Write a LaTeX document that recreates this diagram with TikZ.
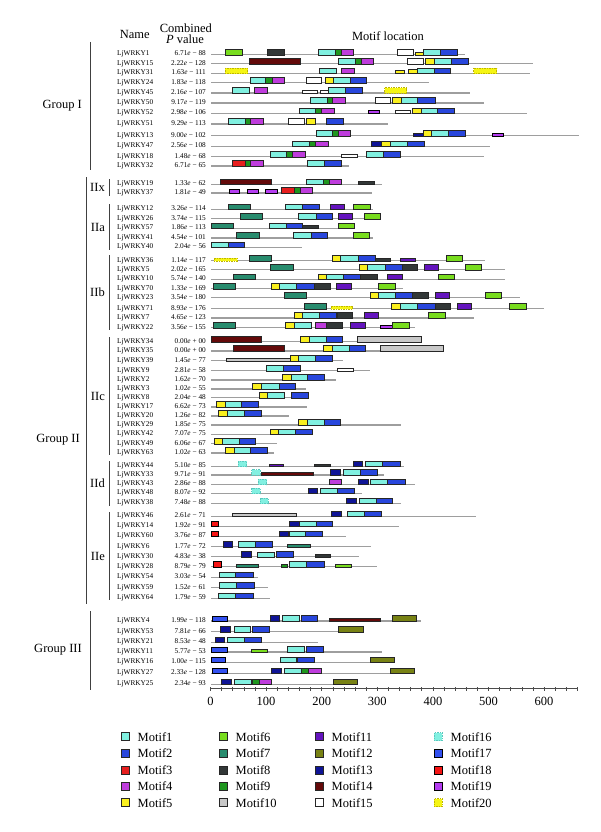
\documentclass[tikz,border=0pt]{standalone}
\usepackage{fontspec}
\setmainfont{Liberation Serif}
\definecolor{c1}{RGB}{128,240,224}
\definecolor{c2}{RGB}{40,70,220}
\definecolor{c3}{RGB}{230,30,30}
\definecolor{c4}{RGB}{190,60,220}
\definecolor{c5}{RGB}{250,240,30}
\definecolor{c6}{RGB}{120,220,30}
\definecolor{c7}{RGB}{40,140,110}
\definecolor{c8}{RGB}{50,55,55}
\definecolor{c9}{RGB}{30,150,30}
\definecolor{c10}{RGB}{200,200,200}
\definecolor{c11}{RGB}{100,20,190}
\definecolor{c12}{RGB}{120,130,20}
\definecolor{c13}{RGB}{15,20,150}
\definecolor{c14}{RGB}{100,10,10}
\definecolor{c16}{RGB}{130,240,225}
\definecolor{c16d}{RGB}{90,200,190}
\definecolor{c17}{RGB}{50,80,240}
\definecolor{c18}{RGB}{245,20,20}
\definecolor{c19}{RGB}{180,60,240}
\definecolor{c20}{RGB}{245,245,20}
\definecolor{c20d}{RGB}{190,180,0}
\tikzset{
 bl/.style={draw=black!85,line width=0.5pt},
 m1/.style={bl,fill=c1}, m2/.style={bl,fill=c2}, m3/.style={bl,fill=c3},
 m4/.style={bl,fill=c4}, m5/.style={bl,fill=c5}, m6/.style={bl,fill=c6},
 m7/.style={bl,fill=c7}, m8/.style={bl,fill=c8}, m9/.style={bl,fill=c9},
 m10/.style={bl,fill=c10}, m11/.style={bl,fill=c11}, m12/.style={bl,fill=c12},
 m13/.style={bl,fill=c13}, m14/.style={bl,fill=c14}, m15/.style={bl,fill=white},
 m16/.style={fill=c16,draw=c16d,dash pattern=on 1.5pt off 1pt,line width=0.6pt},
 m17/.style={fill=c17}, m18/.style={fill=c18}, m19/.style={fill=c19},
 m20/.style={fill=c20,draw=c20d,dash pattern=on 1.5pt off 1pt,line width=0.6pt},
 baseln/.style={draw=black!38,line width=1.1pt},
 gname/.style={anchor=base west,inner sep=0pt,font=\fontsize{7.3}{8}\selectfont},
 pval/.style={anchor=base east,inner sep=0pt,font=\fontsize{7.3}{8}\selectfont},
 head/.style={inner sep=0pt,font=\fontsize{12.5}{13}\selectfont},
 grp/.style={anchor=east,inner sep=0pt,font=\fontsize{12.5}{13}\selectfont},
 sgrp/.style={anchor=east,inner sep=0pt,font=\fontsize{12.5}{13}\selectfont},
 brk/.style={draw=black!75,line width=0.9pt},
 leg/.style={anchor=west,inner sep=0pt,font=\fontsize{12.5}{13}\selectfont},
 axisln/.style={draw=black!70,line width=1pt},
 ticklab/.style={inner sep=0pt,font=\fontsize{12.5}{13}\selectfont},
}
\newcommand\MR[2]{\def\ry{#1}\draw[baseln] (211,\ry+1) -- (#2,\ry+1);}
\newcommand\MB[3]{\draw[#1] (#2,\ry-4.3) rectangle (#3,\ry+1.3);}
\newcommand\MM[3]{\draw[#1] (#2,\ry-3) rectangle (#3,\ry+1.3);}
\newcommand\MS[3]{\draw[#1] (#2,\ry-1.6) rectangle (#3,\ry+1.3);}
\newcommand\GN[3]{\node[gname] (g#1) at (117,\ry+2.5) {LjWRKY#1};\node[pval] (p#1) at (206,\ry+2.5) {#2\textit{e} #3};}
\begin{document}
\begin{tikzpicture}[x=1pt,y=-1pt]
\useasboundingbox (0,0) rectangle (600,832);
\fill[white] (0,0) rectangle (600,832);
% headers
\node[head] (hname) at (134.7,34) {Name};
\node[head] (hcomb) at (185.8,28) {Combined};
\node[head] (hpv) at (185,39.5) {\textit{P} value};
\node[head] (hloc) at (388,36) {Motif location};
% Group I
\MR{53.5}{465}\GN{1}{6.71}{− 88}
\MB{m6}{225.3}{242}\MB{m8}{267.7}{284}\MB{m1}{318.5}{335.5}\MB{m9}{335.5}{341.5}\MB{m4}{341.5}{353.5}\MB{m15}{397.7}{413.5}\MS{m5}{415.3}{423.3}\MB{m1}{423.3}{440.7}\MB{m2}{440.7}{457.3}
\MR{62.8}{533.3}\GN{15}{2.22}{− 128}
\MB{m14}{249}{300.7}\MB{m1}{338.3}{355}\MB{m9}{355}{361}\MB{m4}{361}{373.3}\MB{m15}{407.3}{423.5}\MB{m5}{425.5}{434.3}\MB{m1}{434.3}{451.7}\MB{m2}{451.7}{468.3}
\MR{72.3}{530}\GN{31}{1.63}{− 111}
\MB{m20}{225.3}{247.7}\MB{m1}{319}{336}\MB{m4}{341.7}{354}\MS{m5}{395.3}{404.3}\MM{m5}{408.7}{417.3}\MB{m1}{417.3}{434}\MB{m2}{434}{450.7}\MB{m20}{473.7}{496.5}
\MR{81.6}{429}\GN{24}{1.83}{− 118}
\MB{m1}{250}{265.7}\MB{m9}{265.7}{272.3}\MB{m4}{272.3}{284.3}\MB{m15}{306.3}{321.7}\MB{m5}{325.3}{333.3}\MB{m1}{333.3}{350}\MB{m2}{350}{366.7}
\MR{92}{470}\GN{45}{2.16}{− 107}
\MB{m1}{232.3}{249.3}\MB{m4}{254.3}{267.3}\MS{m15}{302.3}{317.7}\MS{m15}{320.5}{328.5}\MB{m1}{328.5}{345.3}\MB{m2}{345.3}{362}\MB{m20}{384.7}{406.7}
\MR{102}{484.3}\GN{50}{9.17}{− 119}
\MB{m1}{310.5}{327.2}\MB{m9}{327.2}{332.7}\MB{m4}{332.7}{345}\MB{m15}{375}{390.7}\MB{m5}{392.7}{401}\MB{m1}{401}{417.7}\MB{m2}{417.7}{435}
\MR{112.3}{526.7}\GN{52}{2.98}{− 106}
\MB{m1}{299.3}{315.7}\MB{m9}{315.7}{321.7}\MB{m4}{321.7}{334}\MS{m19}{367.7}{379.3}\MS{m15}{395.3}{410.7}\MB{m5}{412.7}{421}\MB{m1}{421}{437.7}\MB{m2}{437.7}{454.3}
\MR{123}{387.7}\GN{51}{9.29}{− 113}
\MB{m1}{228.3}{245}\MB{m9}{245}{250.7}\MB{m4}{250.7}{263.3}\MB{m15}{288.7}{304.7}\MB{m5}{306.5}{315.7}\MB{m2}{326}{343.5}
\MR{134.5}{579.3}\GN{13}{9.00}{− 102}
\MB{m1}{316}{332.7}\MB{m9}{332.7}{338.3}\MB{m4}{338.3}{350.7}\MS{m13}{413.3}{423.3}\MB{m5}{423.3}{431.7}\MB{m1}{431.7}{448.3}\MB{m2}{448.3}{465}\MS{m19}{492}{503.3}
\MR{145.3}{490}\GN{47}{2.56}{− 108}
\MB{m1}{292.7}{309.3}\MB{m9}{309.3}{315}\MB{m4}{315}{328.3}\MB{m13}{371.7}{381.7}\MB{m5}{381.7}{390.7}\MB{m1}{390.7}{407.3}\MB{m2}{407.3}{424.3}
\MR{155.5}{484.3}\GN{18}{1.48}{− 68}
\MB{m1}{270}{286.7}\MB{m9}{286.7}{292.7}\MB{m4}{292.7}{305.5}\MS{m15}{341.3}{357.3}\MB{m1}{366.7}{383.3}\MB{m2}{383.3}{400.7}
\MR{165}{349.3}\GN{32}{6.71}{− 65}
\MB{m3}{232.3}{245}\MB{m9}{245}{250.7}\MB{m4}{250.7}{263.3}\MB{m1}{307.5}{324.5}\MB{m2}{324.5}{340.8}
% IIx
\MR{183.3}{382}\GN{19}{1.33}{− 62}
\MB{m14}{220}{271.7}\MB{m1}{306.7}{323.3}\MB{m9}{323.3}{329.2}\MB{m4}{329.2}{341.2}\MS{m8}{358.3}{374}
\MR{192}{371.7}\GN{37}{1.81}{− 49}
\MM{m19}{229}{239.3}\MM{m19}{247}{258.3}\MM{m19}{265.3}{276.7}\MB{m3}{281.7}{294}\MB{m9}{294}{300}\MB{m4}{300}{312.3}
% IIa
\MR{208.3}{373.3}\GN{12}{3.26}{− 114}
\MB{m7}{228.3}{250.7}\MB{m1}{285.7}{302.7}\MB{m2}{302.7}{319.3}\MB{m11}{330}{344.3}\MB{m6}{353.3}{370}
\MR{217.6}{380}\GN{26}{3.74}{− 115}
\MB{m7}{240.3}{262.7}\MB{m1}{298.3}{316}\MB{m2}{316}{332.7}\MB{m11}{338.3}{352.7}\MB{m6}{364}{380}
\MR{227.2}{355}\GN{57}{1.86}{− 113}
\MB{m7}{211}{233.3}\MB{m1}{269.3}{286}\MB{m2}{286}{302.7}\MS{m8}{302.7}{318.3}\MB{m6}{338.3}{354.3}
\MR{237}{373.3}\GN{41}{4.54}{− 101}
\MB{m7}{236.7}{259}\MB{m1}{293.7}{311}\MB{m2}{311}{327.7}\MB{m6}{353.3}{369.3}
\MR{246.3}{302.3}\GN{40}{2.04}{− 56}
\MB{m1}{211}{228.3}\MB{m2}{228.3}{244.3}
% IIb
\MR{259.8}{485}\GN{36}{1.14}{− 117}
\MS{m20}{214.3}{237}\MB{m7}{249.3}{271.7}\MB{m5}{332}{340.7}\MB{m1}{340.7}{358.3}\MB{m2}{358.3}{375}\MS{m8}{375}{390}\MS{m11}{400}{415}\MB{m6}{446}{462.7}
\MR{268.6}{505}\GN{5}{2.02}{− 165}
\MB{m7}{270.7}{293.3}\MB{m5}{359}{367.7}\MB{m1}{367.7}{385}\MB{m2}{385}{402.7}\MB{m8}{402.7}{417.7}\MB{m11}{424}{438.3}\MB{m6}{465}{481.7}
\MR{278.2}{505}\GN{10}{5.74}{− 140}
\MB{m7}{233}{255.3}\MB{m5}{318.5}{326.7}\MB{m1}{326.7}{343.3}\MB{m2}{343.3}{360.7}\MB{m8}{360.7}{377.3}\MB{m11}{387.7}{402}\MB{m6}{438.3}{454.3}
\MR{287.5}{402.7}\GN{70}{1.33}{− 169}
\MB{m7}{213.3}{235.3}\MB{m5}{271}{279.3}\MB{m1}{279.3}{296.7}\MB{m2}{296.7}{313.8}\MB{m8}{313.8}{330}\MB{m11}{336.7}{351}\MB{m6}{378.3}{395}
\MR{296.6}{520}\GN{23}{3.54}{− 180}
\MB{m7}{284.3}{306.7}\MB{m5}{370}{378.7}\MB{m1}{378.7}{395.7}\MB{m2}{395.7}{412.7}\MB{m8}{412.7}{428.3}\MB{m11}{435}{449.3}\MB{m6}{485}{501}
\MR{307.7}{544}\GN{71}{8.93}{− 176}
\MB{m7}{304.3}{326.7}\MS{m20}{331}{352.7}\MB{m5}{391.7}{400.7}\MB{m1}{400.7}{417.3}\MB{m2}{417.3}{435}\MB{m8}{435}{450.7}\MB{m11}{457.3}{471.7}\MB{m6}{509.3}{526}
\MR{317}{474}\GN{7}{4.65}{− 123}
\MB{m5}{294}{302.3}\MB{m1}{302.3}{319}\MB{m2}{319}{336.7}\MB{m8}{337.7}{352.7}\MB{m11}{364}{378.3}\MB{m6}{428.7}{445}
\MR{326.6}{415}\GN{22}{3.56}{− 155}
\MB{m7}{213.3}{235.7}\MB{m5}{285.7}{294.3}\MB{m1}{294.3}{311}\MB{m4}{315}{326.7}\MB{m8}{326.7}{342.3}\MB{m11}{350.7}{365}\MS{m19}{380}{391.7}\MB{m6}{392.3}{409}
% IIc
\MR{340.8}{421}\GN{34}{0.00}{+ 00}
\MB{m14}{211}{261.7}\MB{m5}{300.3}{309.2}\MB{m1}{309.2}{326}\MB{m2}{326}{342.5}\MB{m10}{357.7}{421}
\MR{350}{443.3}\GN{35}{0.00}{+ 00}
\MB{m14}{233.3}{284.3}\MB{m5}{323.3}{332.3}\MB{m1}{332.3}{349}\MB{m2}{349}{365.7}\MB{m10}{380}{443.3}
\MR{359.7}{343.3}\GN{39}{1.45}{− 77}
\MS{m10}{226}{290}\MB{m5}{290}{298.3}\MB{m1}{298.3}{315}\MB{m2}{315}{332.3}
\MR{369.7}{370}\GN{9}{2.81}{− 58}
\MB{m1}{266}{283.3}\MB{m2}{283.3}{300}\MS{m15}{337.3}{353.3}
\MR{379}{335.7}\GN{2}{1.62}{− 70}
\MB{m5}{282.7}{291}\MB{m1}{291}{307.7}\MB{m2}{307.7}{324.3}
\MR{388}{305.7}\GN{3}{1.02}{− 55}
\MB{m5}{252.7}{261.3}\MB{m1}{261.3}{279}\MB{m2}{279}{295.7}
\MR{396.8}{309.3}\GN{8}{2.04}{− 48}
\MB{m5}{259.3}{267.7}\MB{m1}{267.7}{284.3}\MB{m2}{291}{308}
\MR{406}{306.7}\GN{17}{6.62}{− 73}
\MB{m5}{216}{225}\MB{m1}{225}{241.7}\MB{m2}{241.7}{258.3}
\MR{415}{289.3}\GN{20}{1.26}{− 82}
\MB{m5}{218.3}{227.3}\MB{m1}{227.3}{244}\MB{m2}{244}{261}
\MR{424}{400.7}\GN{29}{1.85}{− 75}
\MB{m5}{298.3}{307.3}\MB{m1}{307.3}{323.8}\MB{m2}{323.8}{340.7}
\MR{433.3}{312.5}\GN{42}{7.07}{− 75}
\MB{m5}{270}{278.3}\MB{m1}{278.3}{295}\MB{m2}{295}{312}
\MR{442.7}{276.7}\GN{49}{6.06}{− 67}
\MB{m5}{214}{222.7}\MB{m1}{222.7}{239.3}\MB{m2}{239.3}{255.7}
\MR{452}{274}\GN{63}{1.02}{− 63}
\MB{m5}{225.7}{234}\MB{m1}{234}{250.7}\MB{m2}{250.7}{267.3}
% IId
\MR{465.4}{404}\GN{44}{5.10}{− 85}
\MB{m16}{238.3}{246.7}\MS{m11}{269}{283.3}\MS{m8}{314}{330}\MB{m13}{353.3}{362.7}\MB{m1}{365.7}{382.7}\MB{m2}{382.7}{400}
\MR{474}{384.3}\GN{33}{9.71}{− 91}
\MB{m16}{251.7}{260}\MS{m14}{261.7}{313}\MB{m13}{330}{340}\MB{m1}{343.3}{360}\MB{m2}{360}{377.7}
\MR{483.2}{415}\GN{43}{2.86}{− 88}
\MB{m16}{258.3}{266.7}\MB{m4}{329.3}{341.7}\MB{m13}{358.3}{368.3}\MB{m1}{370.7}{387.7}\MB{m2}{387.7}{405.3}
\MR{492.4}{362.3}\GN{48}{8.07}{− 92}
\MB{m16}{251.7}{260}\MB{m13}{308.3}{317.7}\MB{m1}{320.7}{337.3}\MB{m2}{337.3}{354.3}
\MR{502.3}{400.7}\GN{38}{7.48}{− 88}
\MB{m16}{260}{268.3}\MB{m13}{346.7}{356}\MB{m1}{359}{376}\MB{m2}{376}{392.7}
% IIe
\MR{515.3}{475.7}\GN{46}{2.61}{− 71}
\MS{m10}{232.7}{296.7}\MB{m13}{331.7}{341}\MB{m1}{347}{364}\MB{m2}{364}{381}
\MR{525.3}{399.3}\GN{14}{1.92}{− 91}
\MB{m18}{211}{218.3}\MB{m13}{289}{299}\MB{m1}{299}{315.8}\MB{m2}{315.8}{332.7}
\MR{535.3}{346}\GN{60}{3.76}{− 87}
\MB{m18}{211}{218.3}\MB{m13}{279}{288.3}\MB{m1}{289}{305}\MB{m2}{305}{322.7}
\MR{545.8}{370.7}\GN{6}{1.77}{− 72}
\MB{m13}{223.3}{232.7}\MB{m1}{238.3}{255.7}\MB{m2}{255.7}{272.7}\MS{m7}{287.7}{310.7}
\MR{555.5}{359.3}\GN{30}{4.83}{− 38}
\MB{m13}{241.7}{251}\MM{m1}{257.3}{274.3}\MB{m2}{276}{293.3}\MS{m8}{315}{330.7}
\MR{565.6}{377.3}\GN{28}{8.79}{− 79}
\MB{m18}{213.3}{221}\MS{m7}{236}{258.3}\MS{m9}{281}{287.7}\MB{m1}{289}{306}\MB{m2}{306}{323.8}\MS{m6}{335.7}{351.7}
\MR{576.3}{258}\GN{54}{3.03}{− 54}
\MB{m1}{219}{235.7}\MB{m2}{235.7}{253.3}
\MR{586.7}{268.3}\GN{59}{1.52}{− 61}
\MB{m1}{219.3}{236.7}\MB{m2}{236.7}{254}
\MR{597.3}{270}\GN{64}{1.79}{− 59}
\MB{m1}{218.3}{235.7}\MB{m2}{235.7}{253.3}
% Group III
\MR{620}{420.7}\GN{4}{1.99}{− 118}
\MB{m17}{211.7}{226.7}\MB{m13}{270}{279.3}\MB{m1}{282.3}{299.3}\MB{m2}{301}{317.7}\MS{m14}{329}{380.7}\MB{m12}{392.3}{416.7}
\MR{630.5}{363.3}\GN{53}{7.81}{− 66}
\MB{m13}{220.7}{230.7}\MB{m1}{234}{250.7}\MB{m2}{252.7}{269.3}\MB{m12}{338.3}{363.3}
\MR{641.3}{318.3}\GN{21}{8.53}{− 48}
\MB{m13}{215}{224.3}\MB{m1}{227.7}{244.3}\MB{m2}{244.3}{261.7}
\MR{651}{382.3}\GN{11}{5.77}{− 53}
\MB{m17}{211}{226.7}\MS{m6}{251.7}{267.3}\MB{m1}{287.7}{304.3}\MB{m2}{306}{323.3}
\MR{661.3}{394.3}\GN{16}{1.00}{− 115}
\MB{m17}{211}{225}\MB{m1}{280}{296.7}\MB{m2}{297.7}{314.3}\MB{m12}{370}{394.3}
\MR{672.3}{414}\GN{27}{2.33}{− 128}
\MB{m17}{211.7}{226.7}\MB{m13}{271.7}{281}\MB{m1}{284.3}{301.7}\MB{m9}{301.7}{308.3}\MB{m4}{308.3}{321.3}\MB{m12}{390}{414}
\MR{683.3}{357.3}\GN{25}{2.34}{− 93}
\MB{m13}{221.7}{231.7}\MB{m1}{234.3}{251.7}\MB{m9}{252.7}{259.3}\MB{m4}{259.3}{271.7}\MB{m12}{333.3}{357.3}
% group brackets
\coordinate (gIa) at (90,42); \coordinate (gIb) at (90,170);
\draw[brk] (gIa) -- (gIb);
\node[grp] (lgI) at (82,106) {Group I};
\coordinate (gIIa) at (86,177); \coordinate (gIIb) at (86,604);
\draw[brk] (gIIa) -- (gIIb);
\node[grp] (lgII) at (80,440) {Group II};
\coordinate (gIIIa) at (90,611); \coordinate (gIIIb) at (90,690);
\draw[brk] (gIIIa) -- (gIIIb);
\node[grp] (lgIII) at (82,650) {Group III};
% subgroups
\foreach \nm/\ya/\yb/\lab in {x/179/196/IIx, a/204/250/IIa, b/255/330/IIb, c/337/455/IIc, d/461/506/IId, e/512/600/IIe}{
 \coordinate (s\nm a) at (109.5,\ya); \coordinate (s\nm b) at (109.5,\yb);
 \draw[brk] (s\nm a) -- (s\nm b);
 \node[sgrp] (ls\nm) at (105,{(\ya+\yb)/2}) {\lab};
}
% axis
\coordinate (ax0) at (210.5,688.5); \coordinate (ax1) at (577.5,688.5);
\draw[axisln] (ax0) -- (ax1);
\foreach \k in {0,20,...,660}{\draw[black!70,line width=0.6pt] (210.5+0.556*\k,687) -- (210.5+0.556*\k,691);}
\foreach \k in {0,100,...,600}{\node[ticklab] (t\k) at (210.5+0.556*\k,701) {\k};}
% legend
\foreach \n/\cx/\ry in {1/121/736.7,2/121/753.3,3/121/770,4/121/786.3,5/121/802.7,
 6/219/736.7,7/219/753.3,8/219/770,9/219/786.3,10/219/802.7,
 11/315/736.7,12/315/753.3,13/315/770,14/315/786.3,15/315/802.7,
 16/434/736.7,17/434/753.3,18/434/770,19/434/786.3,20/434/802.7}{
 \draw[m\n] (\cx,\ry-4) rectangle (\cx+8,\ry+4);
 \node[leg] (l\n) at (\cx+16.5,\ry) {Motif\n};
}
\end{tikzpicture}
\end{document}
